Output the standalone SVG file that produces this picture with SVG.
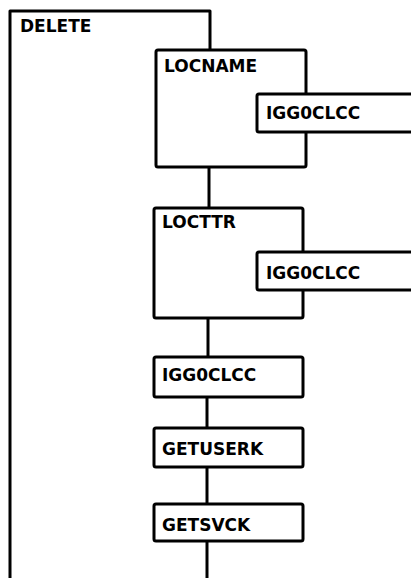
<svg xmlns="http://www.w3.org/2000/svg" width="411" height="578" viewBox="0 0 411 578">
<style>
.b{fill:#fff;stroke:#000;stroke-width:3;stroke-linejoin:round}
.c{fill:none;stroke:#000;stroke-width:3}
.t{font-family:"DejaVu Sans",sans-serif;font-weight:bold;font-size:17px;fill:#000}
</style>
<rect width="411" height="578" fill="#fff"/>
<g id="DELETE">
<path class="c" d="M10,578 V11 H210 V50" stroke-linejoin="round"/>
<text class="t" x="20" y="32">DELETE</text>
</g>
<g id="connectors">
<line class="c" x1="209" y1="167" x2="209" y2="208"/>
<line class="c" x1="208" y1="318" x2="208" y2="357"/>
<line class="c" x1="207" y1="397" x2="207" y2="428"/>
<line class="c" x1="207" y1="467" x2="207" y2="504"/>
<line class="c" x1="207" y1="541" x2="207" y2="578"/>
</g>
<g id="LOCNAME">
<rect class="b" x="156" y="50" width="150" height="117" rx="2"/>
<text class="t" x="164" y="72">LOCNAME</text>
</g>
<g id="IGG0CLCC_1">
<rect class="b" x="257" y="94" width="160" height="38" rx="2"/>
<text class="t" x="266" y="119">IGG0CLCC</text>
</g>
<g id="LOCTTR">
<rect class="b" x="154" y="208" width="149" height="110" rx="2"/>
<text class="t" x="162" y="228">LOCTTR</text>
</g>
<g id="IGG0CLCC_2">
<rect class="b" x="257" y="252" width="160" height="38" rx="2"/>
<text class="t" x="266" y="279">IGG0CLCC</text>
</g>
<g id="IGG0CLCC_3">
<rect class="b" x="154" y="357" width="149" height="40" rx="2"/>
<text class="t" x="162" y="381">IGG0CLCC</text>
</g>
<g id="GETUSERK">
<rect class="b" x="154" y="428" width="149" height="39" rx="2"/>
<text class="t" x="162" y="455">GETUSERK</text>
</g>
<g id="GETSVCK">
<rect class="b" x="154" y="504" width="149" height="37" rx="2"/>
<text class="t" x="162" y="531">GETSVCK</text>
</g>
</svg>
